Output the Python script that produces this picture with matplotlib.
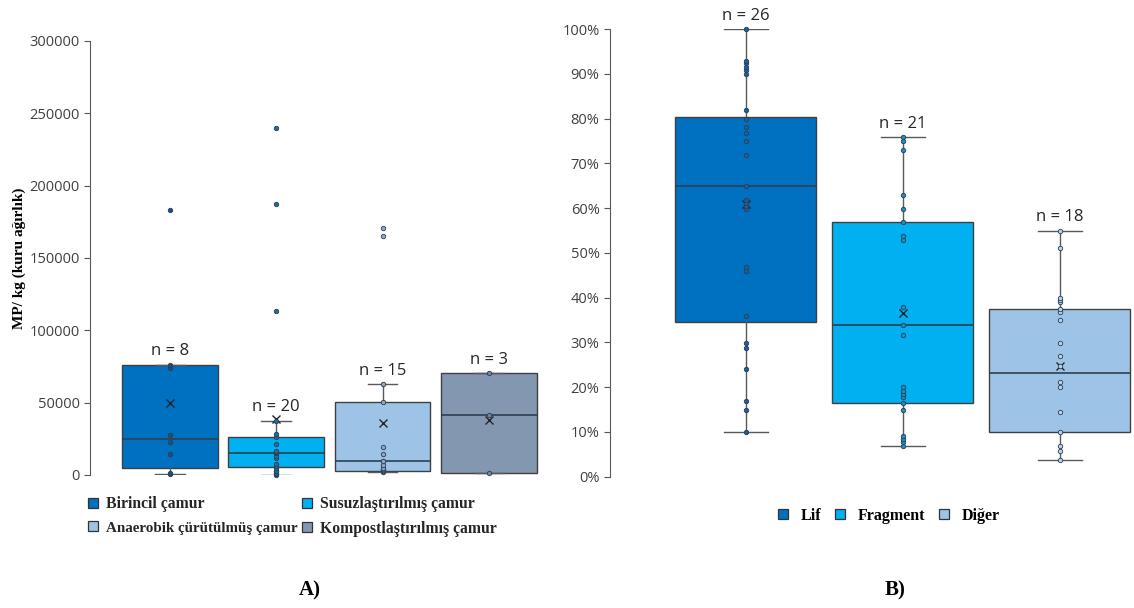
import matplotlib

matplotlib.use("Agg")
import matplotlib.pyplot as plt
import numpy as np
from matplotlib.lines import Line2D
from matplotlib.ticker import PercentFormatter

# ----- data -----------------------------------------------------------------

# Panel A: MP/kg in sludge types
A_labels = ["Birincil çamur", "Susuzlaştırılmış çamur",
            "Anaerobik çürütülmüş çamur", "Kompostlaştırılmış çamur"]
A_colors = ["#0070c0", "#00b0f0", "#9dc3e6", "#8497b0"]
A_point_colors = ["#1f4e79", "#1b6f96", "#8fa6c4", "#6f84a3"]
A_q1 = [4800, 5300, 3000, 1600]
A_med = [25000, 15200, 9900, 41700]
A_q3 = [76000, 26500, 50700, 70300]
A_whislo = [1000, 300, 2300, 1600]
A_whishi = [76000, 37300, 62700, 70300]
A_mean = [50000, 39000, 35700, 37900]
A_points = [
    [600, 1600, 14700, 23000, 27400, 73700, 76000, 183000],
    [300, 1000, 1600, 2500, 3000, 4800, 6000, 7600, 12000, 13400,
     15000, 15700, 16800, 21200, 26500, 28100, 37300, 113000, 187000, 240000],
    [2300, 2800, 3000, 3500, 4000, 5000, 6700, 9900, 10000, 14500,
     19100, 50700, 62700, 165000, 171000],
    [1600, 41700, 70300],
]

# Panel B: share of particle shapes (%)
B_labels = ["Lif", "Fragment", "Diğer"]
B_colors = ["#0070c0", "#00b0f0", "#9dc3e6"]
B_point_colors = ["#1f5f99", "#1b8fc0", "#b9d3ec"]
B_q1 = [34.5, 16.4, 10.0]
B_med = [65.0, 34.0, 23.1]
B_q3 = [80.3, 56.9, 37.5]
B_whislo = [10.0, 6.9, 3.8]
B_whishi = [100.0, 75.9, 55.0]
B_mean = [61.0, 36.5, 24.8]
B_points = [
    [10.0, 14.9, 17.0, 24.0, 28.8, 29.9, 35.9, 46.0, 46.9, 59.9, 60.5, 61.1, 61.8,
     65.0, 72.0, 75.0, 76.9, 78.2, 80.0, 82.0, 90.0, 90.9, 91.5, 92.4, 92.9, 100.0],
    [6.9, 7.8, 8.4, 9.1, 14.9, 16.4, 17.9, 18.5, 19.2, 20.0, 31.7, 34.0, 37.9,
     52.9, 53.9, 56.9, 59.8, 63.0, 73.0, 75.0, 76.0],
    [3.8, 5.8, 6.9, 10.0, 14.5, 20.0, 21.2, 24.8, 27.0, 29.9, 35.0, 36.9, 37.5,
     39.0, 39.4, 40.0, 51.0, 55.0],
]

TICK_FONT = "Open Sans"
SERIF = "Liberation Serif"
EDGE = "#404040"
AXIS = "#595959"


def draw_panel(ax, colors, pcolors, q1, med, q3, lo, hi, mean, points):
    stats = []
    for i in range(len(q1)):
        stats.append(dict(q1=q1[i], med=med[i], q3=q3[i], whislo=lo[i],
                          whishi=hi[i], mean=mean[i], fliers=[]))
    pos = np.arange(1, len(stats) + 1)
    parts = ax.bxp(stats, positions=pos, widths=0.9, patch_artist=True,
                   showmeans=True, showfliers=False, capwidths=0.28,
                   boxprops=dict(edgecolor=EDGE, linewidth=1.0),
                   medianprops=dict(color="#2f3f50", linewidth=1.2),
                   whiskerprops=dict(color=AXIS, linewidth=1.0),
                   capprops=dict(color=AXIS, linewidth=1.0),
                   meanprops=dict(marker="x", markeredgecolor="#262626",
                                  markersize=5.5, markeredgewidth=1.0))
    for box, c in zip(parts["boxes"], colors):
        box.set_facecolor(c)
    for p, pts, pc in zip(pos, points, pcolors):
        ax.plot(np.full(len(pts), p), pts, "o", ms=3.2, mfc=pc, mec="#2b3f55",
                mew=0.6, zorder=4, clip_on=False)
        # sample size sits just above the upper whisker
        top = max(hi[p - 1], q3[p - 1])
        ax.annotate(f"n = {len(pts)}", (p, top), xytext=(0, 4),
                    textcoords="offset points", ha="center", va="bottom",
                    fontsize=12, family=TICK_FONT, color="#262626")
    for s in ("top", "right", "bottom"):
        ax.spines[s].set_visible(False)
    ax.spines["left"].set_color(AXIS)
    ax.tick_params(axis="y", direction="out", length=4, color=AXIS,
                   labelsize=10.5, labelcolor="#404040")
    ax.set_xticks([])


fig = plt.figure(figsize=(11.34, 6.08), dpi=100)

axA = fig.add_axes([0.0794, 0.2188, 0.3986, 0.7138])
axA.set_ylim(0, 300000)
axA.set_xlim(0.25, 4.5)
axA.set_yticks(np.arange(0, 300001, 50000))
draw_panel(axA, A_colors, A_point_colors, A_q1, A_med, A_q3, A_whislo,
           A_whishi, A_mean, A_points)
for t in axA.get_yticklabels():
    t.set_family(TICK_FONT)
axA.set_ylabel("MP/ kg (kuru ağırlık)", family=SERIF, fontweight="bold",
               fontsize=11, labelpad=2)

axB = fig.add_axes([0.5379, 0.216, 0.4603, 0.7359])
axB.set_ylim(0, 100)
axB.set_xlim(0.137, 3.46)
axB.set_yticks(np.arange(0, 101, 10))
axB.yaxis.set_major_formatter(PercentFormatter(decimals=0))
draw_panel(axB, B_colors, B_point_colors, B_q1, B_med, B_q3, B_whislo,
           B_whishi, B_mean, B_points)
for t in axB.get_yticklabels():
    t.set_family(TICK_FONT)


def legend_handles(labels, colors, order):
    return [Line2D([], [], ls="none", marker="s", ms=6.5, mfc=colors[i],
                   mec="#333333", mew=0.9, label=labels[i]) for i in order]


# legend fills column by column, so interleave to get row-wise order
legA = fig.legend(handles=legend_handles(A_labels, A_colors, [0, 2, 1, 3]), ncol=2,
                  loc="upper left", bbox_to_anchor=(0.064, 0.207), frameon=False,
                  prop=dict(family=SERIF, weight="bold", size=11.3),
                  handlelength=0.8, handletextpad=0.45, columnspacing=0.15,
                  labelspacing=0.55, labelcolor="#262626")
legA.get_texts()[1].set_fontsize(10.8)
legB = fig.legend(handles=legend_handles(B_labels, B_colors, [0, 1, 2]), ncol=3,
                  loc="upper left", bbox_to_anchor=(0.672, 0.188), frameon=False,
                  prop=dict(family=SERIF, weight="bold", size=11.5),
                  handlelength=0.8, handletextpad=0.7, columnspacing=0.8,
                  labelcolor="#000000")

fig.text(0.273, 0.028, "A)", family=SERIF, fontweight="bold", fontsize=15,
         ha="center", va="center")
fig.text(0.789, 0.028, "B)", family=SERIF, fontweight="bold", fontsize=15,
         ha="center", va="center")

fig.savefig("out.png", dpi=100)
plt.close(fig)
